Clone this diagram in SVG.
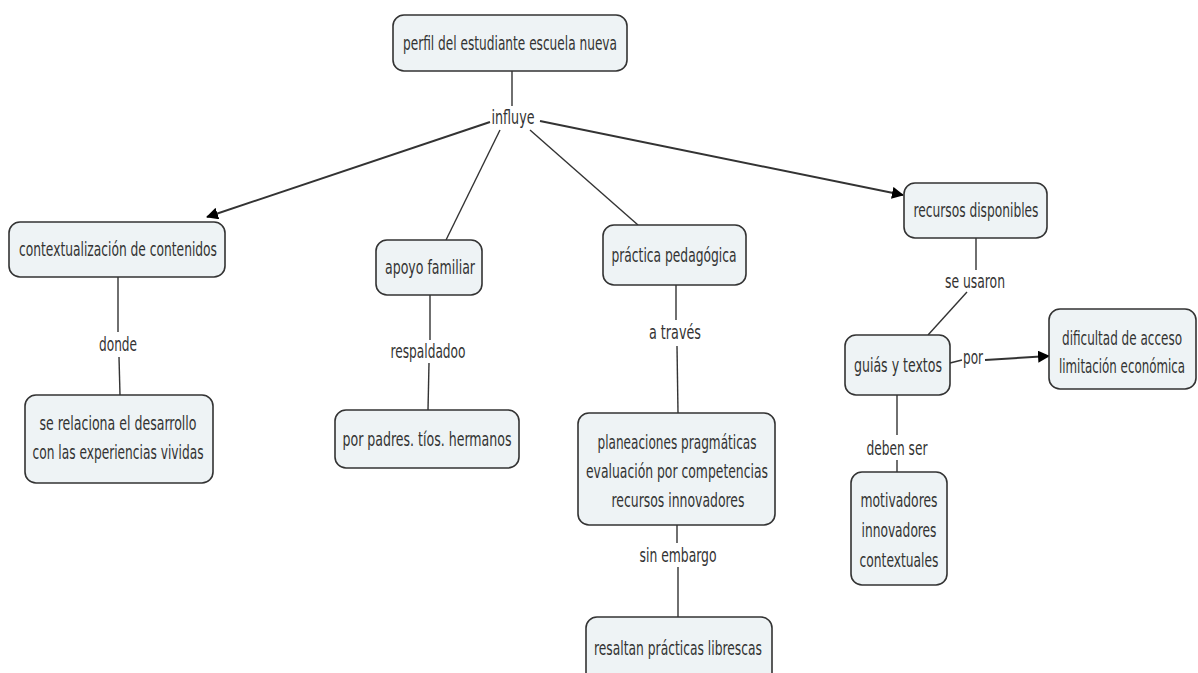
<svg xmlns="http://www.w3.org/2000/svg" width="1198" height="673" viewBox="0 0 1198 673">
<style>
.n rect{fill:#eef3f5;stroke:#333;stroke-width:1.6}
text{font-family:"DejaVu Sans Condensed","DejaVu Sans",Verdana,sans-serif;font-size:19px;fill:#333;text-anchor:middle}
.c line,.c path{stroke:#333;stroke-width:1.4;fill:none}
.c .a{stroke-width:2}
</style>
<defs>
<marker id="ar" viewBox="0 0 12 12" refX="11" refY="6" markerWidth="12" markerHeight="12" markerUnits="userSpaceOnUse" orient="auto">
<path d="M0,0 L12,6 L0,12 z" fill="#000"/>
</marker>
</defs>
<rect width="1198" height="673" fill="#fff"/>
<g class="c" id="connectors">
<line x1="512" y1="71" x2="512" y2="106"/>
<line class="a" x1="490" y1="122" x2="207" y2="217" marker-end="url(#ar)"/>
<line x1="500" y1="130" x2="446" y2="240"/>
<line x1="530" y1="130" x2="638" y2="225"/>
<line class="a" x1="540" y1="121" x2="903" y2="195" marker-end="url(#ar)"/>
<line x1="118" y1="277" x2="118" y2="332"/>
<line x1="119" y1="357" x2="120" y2="395"/>
<line x1="430" y1="295" x2="430" y2="340"/>
<line x1="429" y1="363" x2="428" y2="410"/>
<line x1="676" y1="285" x2="676" y2="320"/>
<line x1="677" y1="346" x2="678" y2="413"/>
<line x1="677" y1="525" x2="677" y2="543"/>
<line x1="678" y1="567" x2="678" y2="617"/>
<line x1="976" y1="238" x2="976" y2="270"/>
<line x1="967" y1="292" x2="928" y2="335"/>
<line x1="950" y1="363" x2="962" y2="360"/>
<line class="a" x1="985" y1="360" x2="1049" y2="356" marker-end="url(#ar)"/>
<line x1="897" y1="395" x2="897" y2="435"/>
<line x1="897" y1="460" x2="897" y2="472"/>
</g>
<g id="labels">
<text x="513" y="124" textLength="43" lengthAdjust="spacingAndGlyphs">influye</text>
<text x="118" y="351" textLength="38" lengthAdjust="spacingAndGlyphs">donde</text>
<text x="428" y="358" textLength="75" lengthAdjust="spacingAndGlyphs">respaldadoo</text>
<text x="675" y="339" textLength="52" lengthAdjust="spacingAndGlyphs">a través</text>
<text x="678" y="562" textLength="77" lengthAdjust="spacingAndGlyphs">sin embargo</text>
<text x="975" y="288" textLength="60" lengthAdjust="spacingAndGlyphs">se usaron</text>
<text x="973" y="364" textLength="20" lengthAdjust="spacingAndGlyphs">por</text>
<text x="897" y="455" textLength="61" lengthAdjust="spacingAndGlyphs">deben ser</text>
</g>
<g class="n" id="n-perfil"><rect x="393" y="15" width="234" height="56" rx="11"/><text x="510" y="50" textLength="214" lengthAdjust="spacingAndGlyphs">perfil del estudiante escuela nueva</text></g>
<g class="n" id="n-contextualizacion"><rect x="9" y="222" width="216" height="55" rx="11"/><text x="118" y="256" textLength="198" lengthAdjust="spacingAndGlyphs">contextualización de contenidos</text></g>
<g class="n" id="n-relaciona"><rect x="25" y="395" width="188" height="88" rx="11"/><text x="118" y="430" textLength="157" lengthAdjust="spacingAndGlyphs">se relaciona el desarrollo</text><text x="118" y="459" textLength="171" lengthAdjust="spacingAndGlyphs">con las experiencias vividas</text></g>
<g class="n" id="n-apoyo"><rect x="376" y="240" width="106" height="55" rx="11"/><text x="430" y="274" textLength="90" lengthAdjust="spacingAndGlyphs">apoyo familiar</text></g>
<g class="n" id="n-padres"><rect x="335" y="410" width="184" height="58" rx="11"/><text x="427" y="446" textLength="169" lengthAdjust="spacingAndGlyphs">por padres. tíos. hermanos</text></g>
<g class="n" id="n-practica"><rect x="603" y="225" width="143" height="60" rx="11"/><text x="674" y="262" textLength="125" lengthAdjust="spacingAndGlyphs">práctica pedagógica</text></g>
<g class="n" id="n-planeaciones"><rect x="578" y="413" width="197" height="112" rx="11"/><text x="677" y="449" textLength="159" lengthAdjust="spacingAndGlyphs">planeaciones pragmáticas</text><text x="677" y="478" textLength="182" lengthAdjust="spacingAndGlyphs">evaluación por competencias</text><text x="678" y="507" textLength="133" lengthAdjust="spacingAndGlyphs">recursos innovadores</text></g>
<g class="n" id="n-resaltan"><rect x="586" y="617" width="186" height="70" rx="11"/><text x="678" y="655" textLength="168" lengthAdjust="spacingAndGlyphs">resaltan prácticas librescas</text></g>
<g class="n" id="n-recursos"><rect x="904" y="183" width="143" height="55" rx="11"/><text x="976" y="217" textLength="125" lengthAdjust="spacingAndGlyphs">recursos disponibles</text></g>
<g class="n" id="n-guias"><rect x="845" y="335" width="105" height="60" rx="11"/><text x="898" y="372" textLength="88" lengthAdjust="spacingAndGlyphs">guiás y textos</text></g>
<g class="n" id="n-dificultad"><rect x="1049" y="309" width="147" height="80" rx="11"/><text x="1122" y="345" textLength="120" lengthAdjust="spacingAndGlyphs">dificultad de acceso</text><text x="1122" y="373" textLength="126" lengthAdjust="spacingAndGlyphs">limitación económica</text></g>
<g class="n" id="n-motivadores"><rect x="851" y="472" width="96" height="113" rx="11"/><text x="899" y="507" textLength="77" lengthAdjust="spacingAndGlyphs">motivadores</text><text x="899" y="537" textLength="75" lengthAdjust="spacingAndGlyphs">innovadores</text><text x="899" y="567" textLength="79" lengthAdjust="spacingAndGlyphs">contextuales</text></g>
</svg>
